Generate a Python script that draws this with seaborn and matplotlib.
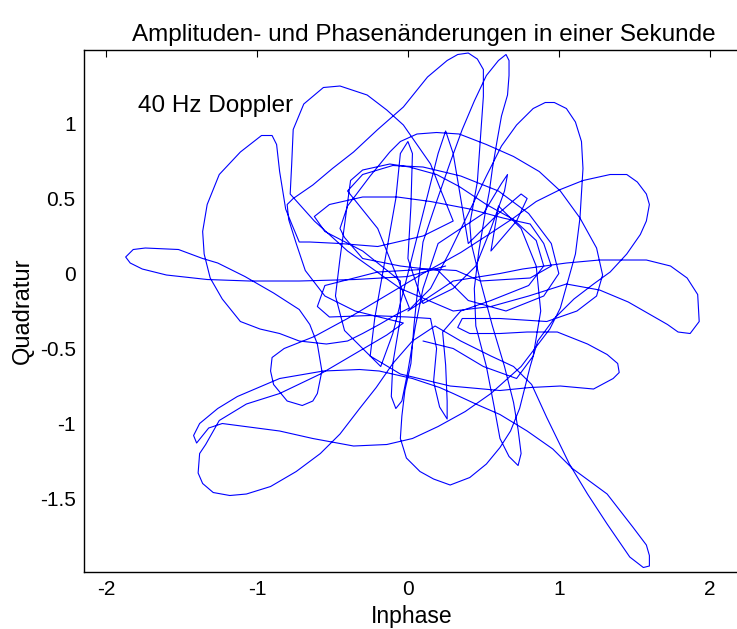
import pandas as pd
import matplotlib
matplotlib.use("Agg")
import matplotlib.pyplot as plt
import seaborn as sns

# I/Q trajectory, split into the loops it runs through
# each entry is (Inphase, Quadratur)
left_tail = [
    (0.25, 0.05), (0.00, -0.02), (-0.35, -0.04), (-0.72, -0.05), (-1.05, -0.05), (-1.33, -0.04),
    (-1.60, -0.01), (-1.76, 0.03), (-1.84, 0.07), (-1.87, 0.11), (-1.82, 0.16), (-1.74, 0.17),
    (-1.52, 0.16), (-1.36, 0.10), (-1.26, 0.07), (-1.08, -0.02), (-0.89, -0.13),
]
loop_d = [
    (-0.72, -0.24), (-0.65, -0.34), (-0.60, -0.47), (-0.57, -0.65), (-0.60, -0.80), (-0.63, -0.85),
    (-0.70, -0.88), (-0.80, -0.85), (-0.89, -0.74), (-0.91, -0.65), (-0.90, -0.56), (-0.82, -0.50),
]
right_upper = [
    (-0.62, -0.42), (-0.40, -0.30), (-0.15, -0.15), (0.10, 0.00), (0.35, 0.14), (0.55, 0.27),
    (0.70, 0.37), (0.85, 0.48), (1.01, 0.56), (1.16, 0.62), (1.34, 0.66), (1.45, 0.66), (1.52, 0.61),
    (1.58, 0.53), (1.60, 0.46), (1.58, 0.35), (1.54, 0.26), (1.45, 0.13), (1.34, 0.01), (1.23, -0.07),
    (1.10, -0.17), (0.97, -0.30), (0.86, -0.45),
]
bottom_loop = [
    (0.81, -0.62), (0.74, -0.90), (0.68, -1.05), (0.61, -1.16), (0.52, -1.27), (0.41, -1.36),
    (0.28, -1.41), (0.17, -1.37), (0.08, -1.32), (-0.01, -1.23), (-0.05, -1.10), (-0.04, -0.95),
    (-0.02, -0.78), (0.02, -0.60), (0.04, -0.35), (0.07, -0.05),
]
top_right_spike = [
    (0.10, 0.21), (0.19, 0.48), (0.28, 0.74), (0.36, 0.96), (0.44, 1.15), (0.52, 1.32), (0.60, 1.42),
    (0.65, 1.46), (0.67, 1.42), (0.67, 1.32), (0.66, 1.19), (0.62, 1.05), (0.59, 0.88), (0.56, 0.70),
    (0.54, 0.55), (0.51, 0.39), (0.47, 0.15), (0.44, -0.10), (0.45, -0.35),
]
narrow_down = [
    (0.52, -0.62), (0.57, -0.88), (0.61, -1.10), (0.67, -1.22), (0.73, -1.28), (0.75, -1.20),
    (0.73, -1.04), (0.70, -0.86), (0.64, -0.62), (0.56, -0.35), (0.48, -0.05),
]
top_spike = [
    (0.42, 0.20), (0.41, 0.33), (0.44, 0.50), (0.46, 0.61), (0.47, 0.75), (0.48, 0.88), (0.49, 1.03),
    (0.50, 1.18), (0.50, 1.36), (0.46, 1.43), (0.40, 1.47), (0.33, 1.46), (0.26, 1.42), (0.13, 1.31),
    (-0.03, 1.11), (-0.20, 0.96), (-0.36, 0.81), (-0.50, 0.70), (-0.63, 0.59), (-0.76, 0.50),
    (-0.80, 0.46), (-0.79, 0.36), (-0.74, 0.20), (-0.68, 0.02), (-0.55, -0.15), (-0.35, -0.25),
    (-0.15, -0.30), (-0.03, -0.33),
]
bottom_left = [
    (-0.14, -0.41), (-0.36, -0.54), (-0.58, -0.67), (-0.85, -0.80), (-1.07, -0.87), (-1.25, -0.98),
    (-1.34, -1.14), (-1.38, -1.20), (-1.39, -1.33), (-1.36, -1.40), (-1.29, -1.46), (-1.18, -1.48),
    (-1.07, -1.47), (-0.91, -1.42), (-0.74, -1.32), (-0.58, -1.20), (-0.45, -1.07), (-0.32, -0.90),
    (-0.21, -0.76), (-0.10, -0.60), (0.03, -0.45), (0.18, -0.35),
]
long_spike = [
    (0.35, -0.45), (0.55, -0.55), (0.70, -0.62), (0.82, -0.74), (0.92, -0.96), (1.07, -1.27),
    (1.19, -1.47), (1.32, -1.67), (1.47, -1.89), (1.56, -1.96), (1.60, -1.95), (1.60, -1.88),
    (1.58, -1.81), (1.49, -1.69), (1.32, -1.47), (1.09, -1.30), (0.96, -1.17), (0.79, -1.05),
    (0.61, -0.94), (0.45, -0.87), (0.30, -0.80), (0.21, -0.76),
]
left_lower = [
    (0.03, -0.70), (-0.19, -0.65), (-0.32, -0.64), (-0.56, -0.65), (-0.85, -0.70), (-1.13, -0.82),
    (-1.26, -0.90), (-1.38, -1.00), (-1.42, -1.08), (-1.40, -1.13), (-1.32, -1.03), (-1.23, -1.00),
    (-0.85, -1.05), (-0.63, -1.10), (-0.36, -1.15), (-0.14, -1.14), (0.03, -1.10), (0.20, -1.02),
    (0.38, -0.92),
]
right_tall = [
    (0.55, -0.80), (0.75, -0.62), (0.94, -0.37), (1.01, -0.23), (1.06, -0.05), (1.11, 0.13),
    (1.14, 0.37), (1.15, 0.54), (1.16, 0.70), (1.15, 0.88), (1.11, 1.01), (1.05, 1.10), (0.97, 1.14),
    (0.91, 1.14), (0.83, 1.10), (0.72, 0.99), (0.62, 0.85), (0.52, 0.65), (0.40, 0.40), (0.28, 0.15),
    (0.15, -0.10), (0.00, -0.25),
]
right_tail = [
    (0.30, -0.05), (0.61, 0.00), (0.76, 0.03), (1.05, 0.07), (1.27, 0.09), (1.58, 0.09), (1.74, 0.05),
    (1.85, -0.03), (1.92, -0.14), (1.93, -0.32), (1.87, -0.40), (1.79, -0.39), (1.72, -0.34),
    (1.46, -0.19), (1.27, -0.11), (1.05, -0.07), (0.80, -0.15), (0.55, -0.22), (0.30, -0.25),
]
upper_left = [
    (-0.05, -0.10), (-0.40, 0.15), (-0.62, 0.35), (-0.78, 0.53), (-0.77, 0.73), (-0.76, 0.96),
    (-0.69, 1.13), (-0.56, 1.24), (-0.45, 1.25), (-0.27, 1.19), (-0.14, 1.09), (-0.03, 0.99),
    (0.06, 0.86), (0.15, 0.73), (0.22, 0.55), (0.30, 0.35),
]
top_left_lobe = [
    (0.10, 0.25), (-0.20, 0.18), (-0.45, 0.20), (-0.65, 0.21), (-0.72, 0.21), (-0.77, 0.33),
    (-0.81, 0.43), (-0.85, 0.68), (-0.87, 0.86), (-0.90, 0.92), (-0.97, 0.92), (-1.11, 0.81),
    (-1.25, 0.66), (-1.33, 0.46), (-1.36, 0.28), (-1.35, 0.13), (-1.31, -0.03), (-1.23, -0.17),
    (-1.11, -0.32), (-0.98, -0.37), (-0.85, -0.40), (-0.72, -0.45), (-0.54, -0.47), (-0.40, -0.45),
    (-0.30, -0.40), (-0.19, -0.34), (-0.07, -0.27), (0.01, -0.23),
]
centre_arcs = [
    (-0.20, 0.30), (-0.40, 0.55), (-0.30, 0.66), (-0.10, 0.72), (0.10, 0.71), (0.35, 0.65),
    (0.60, 0.55), (0.80, 0.40), (0.95, 0.20), (1.00, 0.00), (0.90, -0.15), (0.65, -0.25),
    (0.40, -0.18), (0.20, 0.02), (-0.05, 0.05), (-0.30, 0.10), (-0.42, 0.24), (-0.45, 0.30),
    (-0.40, 0.45), (-0.25, 0.65), (-0.12, 0.81), (-0.05, 0.88), (0.06, 0.93), (0.19, 0.94),
    (0.34, 0.93), (0.52, 0.86), (0.70, 0.78), (0.87, 0.68), (1.01, 0.55), (1.14, 0.37), (1.25, 0.17),
    (1.29, -0.01), (1.25, -0.15), (1.12, -0.25), (0.92, -0.32), (0.61, -0.30), (0.36, -0.30),
    (0.33, -0.36), (0.41, -0.40), (0.61, -0.40), (0.79, -0.39), (0.99, -0.39), (1.19, -0.47),
    (1.32, -0.54), (1.39, -0.60), (1.40, -0.66), (1.36, -0.70), (1.23, -0.77), (1.01, -0.75),
    (0.81, -0.76), (0.61, -0.78), (0.28, -0.75), (-0.05, -0.67), (-0.25, -0.55), (-0.42, -0.38),
    (-0.48, -0.15), (-0.45, 0.10), (-0.41, 0.40), (-0.38, 0.62), (-0.30, 0.69), (-0.12, 0.73),
    (0.01, 0.71), (0.19, 0.66), (0.34, 0.58), (0.52, 0.46), (0.70, 0.36), (0.85, 0.22), (0.90, 0.05),
    (0.80, -0.08), (0.55, -0.18), (0.35, -0.25), (0.23, -0.39), (0.25, -0.61), (0.26, -0.85),
    (0.26, -0.97), (0.21, -0.89), (0.17, -0.72), (0.19, -0.50), (0.15, -0.30), (0.00, -0.29),
    (-0.25, -0.28), (-0.52, -0.29), (-0.60, -0.22), (-0.55, -0.08), (-0.20, 0.01), (0.15, 0.03),
    (0.32, 0.02), (0.48, -0.05), (0.81, -0.03), (0.95, 0.05), (0.90, 0.20), (0.81, 0.33),
    (0.63, 0.37), (0.41, 0.43), (0.15, 0.48), (-0.07, 0.51), (-0.30, 0.51), (-0.52, 0.46),
    (-0.62, 0.38), (-0.55, 0.28), (-0.30, 0.15), (-0.05, -0.05), (-0.05, -0.30), (-0.10, -0.60),
    (-0.11, -0.82), (-0.08, -0.90), (-0.04, -0.85), (0.00, -0.65), (0.05, -0.35), (0.10, -0.10),
]
inner_strokes = [
    (0.20, 0.20), (0.50, 0.40), (0.62, 0.60), (0.66, 0.66), (0.64, 0.55), (0.55, 0.30),
    (0.45, 0.05), (0.30, -0.10), (0.10, -0.20), (0.00, 0.10), (0.02, 0.45), (0.03, 0.80),
    (0.00, 0.88), (-0.05, 0.80), (-0.08, 0.50), (-0.15, 0.10), (-0.22, -0.30), (-0.25, -0.55),
    (-0.18, -0.62), (-0.10, -0.40), (0.00, 0.00), (0.10, 0.40), (0.20, 0.80), (0.25, 0.95),
    (0.30, 0.80), (0.40, 0.20), (0.60, 0.40), (0.75, 0.53), (0.79, 0.50), (0.72, 0.35),
    (0.55, 0.15), (0.60, 0.45), (0.75, 0.30), (0.85, 0.05), (0.88, -0.25), (0.83, -0.55),
    (0.72, -0.70), (0.50, -0.62), (0.30, -0.50), (0.10, -0.45),
]

segments = [left_tail, loop_d, right_upper, bottom_loop, top_right_spike, narrow_down,
            top_spike, bottom_left, long_spike, left_lower, right_tall, right_tail,
            upper_left, top_left_lobe, centre_arcs, inner_strokes]
path = [p for seg in segments for p in seg]
df = pd.DataFrame(path, columns=["Inphase", "Quadratur"])

sns.set_style("white")
plt.rcParams["font.family"] = ["Liberation Sans", "DejaVu Sans"]
plt.rcParams["text.color"] = "black"
plt.rcParams["axes.labelcolor"] = "black"

fig = plt.figure(figsize=(7.37, 6.29), dpi=100)
# right edge of the box lies just outside the picture, as in the reference
ax = fig.add_axes([0.114, 0.0906, 0.890, 0.8299])

sns.lineplot(data=df, x="Inphase", y="Quadratur", sort=False, estimator=None,
             color="#0000ff", linewidth=0.8, ax=ax)

ax.set_xlim(-2.146, 2.20)
ax.set_ylim(-1.99, 1.49)
ax.set_xticks([-2, -1, 0, 1, 2])
ax.set_xticklabels(["-2", "-1", "0", "1", "2"])
ax.set_yticks([-1.5, -1, -0.5, 0, 0.5, 1])
ax.set_yticklabels(["-1.5", "-1", "-0.5", "0", "0.5", "1"])
ax.tick_params(direction="in", length=5, width=0.8, top=True, right=False,
               labelsize=15, pad=6, colors="black")
for s in ax.spines.values():
    s.set_color("black")
    s.set_linewidth(1.0)
ax.set_xlabel("Inphase", fontsize=16.5, labelpad=4)
ax.set_ylabel("Quadratur", fontsize=17, labelpad=4)
ax.text(-1.79, 1.08, "40 Hz Doppler", fontsize=17.5)
fig.text(0.575, 0.945, "Amplituden- und Phasenänderungen in einer Sekunde",
         ha="center", va="center", fontsize=17.5)

fig.savefig("out.png", dpi=100)
